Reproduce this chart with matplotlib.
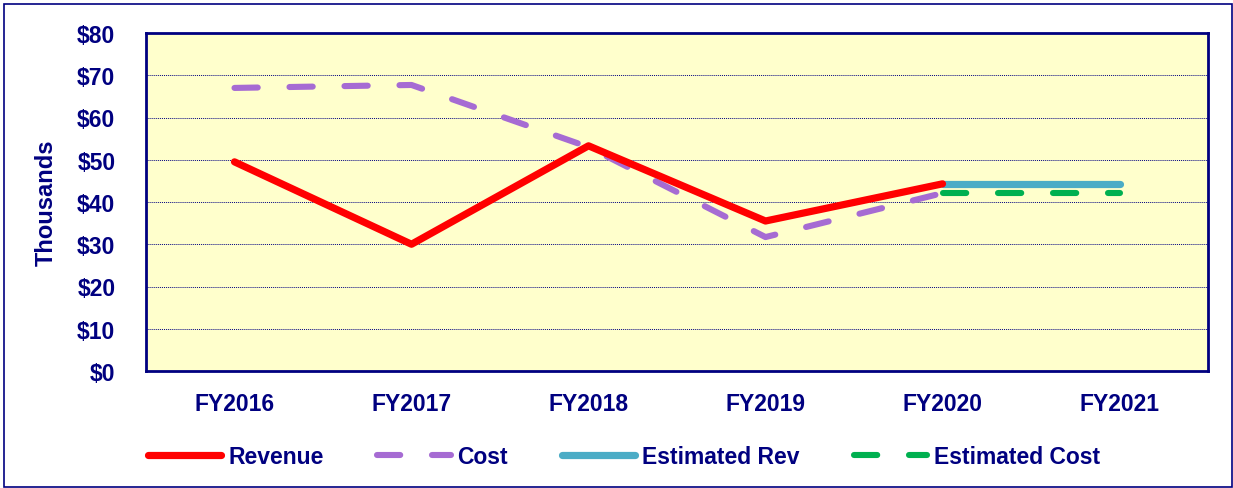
import numpy as np
import matplotlib.pyplot as plt
from matplotlib.patches import Rectangle

plt.rcParams['font.family'] = ['Liberation Sans', 'DejaVu Sans']
plt.rcParams['font.weight'] = 'bold'

years = ['FY2016', 'FY2017', 'FY2018', 'FY2019', 'FY2020', 'FY2021']
revenue = [49.5, 30.0, 53.3, 35.5, 44.3]
cost = [67.0, 67.7, 53.0, 31.7, 42.1]
est_rev = [44.3, 44.3]
est_cost = [42.1, 42.1]

navy = '#000080'
fs = 16.5

fig = plt.figure(figsize=(12.33, 4.89), dpi=100)
ax = fig.add_axes([146/1233, 1 - 372/489, (1208-146)/1233, (372-34)/489])
ax.set_facecolor('#FFFFCC')

x = np.arange(len(years))
ax.plot(x[:5], revenue, color='#FF0000', lw=5.2, solid_capstyle='round', label='Revenue', zorder=4)
ax.plot(x[:5], cost, color='#A66BD3', lw=4.4, dashes=(3.8, 5.2), dash_capstyle='round', label='Cost', zorder=3)
ax.plot(x[4:], est_rev, color='#4BACC6', lw=5.2, solid_capstyle='round', label='Estimated Rev', zorder=3)
ax.plot(x[4:], est_cost, color='#00B050', lw=4.4, dashes=(3.8, 5.2), dash_capstyle='round', label='Estimated Cost', zorder=3)

ax.set_xlim(-0.5, 5.5)
ax.set_ylim(0, 80)
ax.set_yticks(range(0, 81, 10))
ax.set_yticklabels(['$%d' % v for v in range(0, 81, 10)])
ax.set_xticks(x)
ax.set_xticklabels(years)
ax.tick_params(axis='both', length=0, labelsize=fs, labelcolor=navy)
ax.tick_params(axis='y', pad=22)
ax.tick_params(axis='x', pad=15)
ax.grid(axis='y', color=navy, ls=(0, (1, 1)), lw=0.7)
for s in ax.spines.values():
    s.set_color(navy)
    s.set_linewidth(2)
ax.set_ylabel('Thousands', fontsize=17, color=navy, fontweight='bold', labelpad=14)

leg = ax.legend(loc='center', bbox_to_anchor=(0.45, -0.252), ncol=4, frameon=False,
                fontsize=fs, handlelength=3.2, handletextpad=0.3, columnspacing=2.35)
for t in leg.get_texts():
    t.set_color(navy)

fig.patches.append(Rectangle((4/1233, 0.002), 1 - 5/1233, 1 - 6/489, transform=fig.transFigure,
                             fill=False, edgecolor=navy, lw=1.2))

fig.savefig('out.png', dpi=100)
